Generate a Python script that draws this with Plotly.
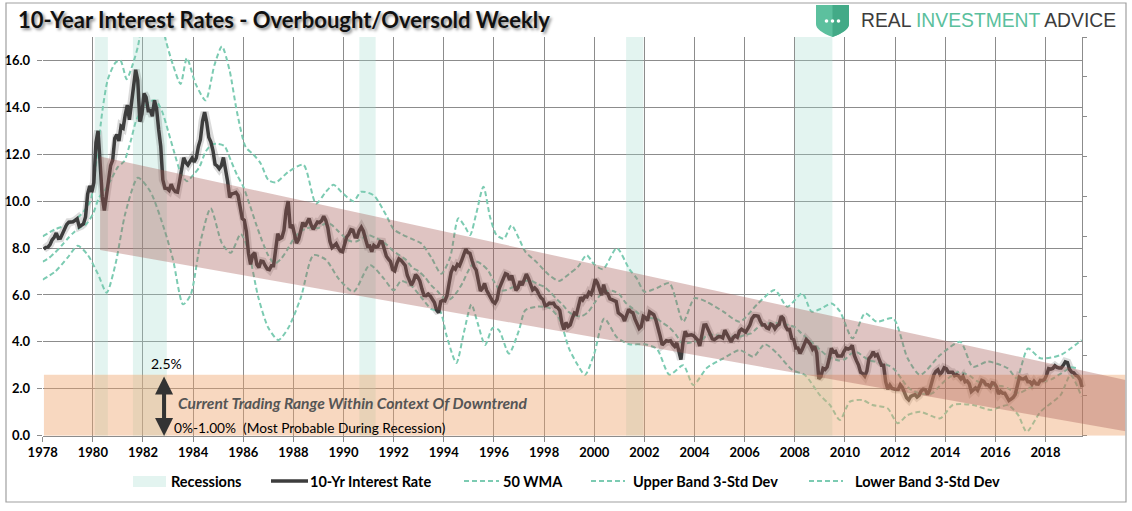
import plotly.graph_objects as go

# ---------------- DATA ----------------
rate_start_year = 1978
# monthly 10-year rate, Jan 1978 .. Jun 2019
rate_values = [
    7.96, 8.03, 8.04, 8.15, 8.35, 8.46, 8.64, 8.41, 8.42, 8.64, 8.81, 9.01,
    9.10, 9.10, 9.12, 9.18, 9.25, 8.91, 8.95, 9.03, 9.33, 10.30, 10.65, 10.39,
    10.80, 12.50, 13.00, 11.50, 10.20, 9.60, 10.25, 11.10, 11.51, 11.75, 12.68, 12.84,
    12.57, 13.19, 13.12, 13.68, 14.10, 13.47, 14.28, 14.94, 15.60, 15.15, 13.39, 13.72,
    14.59, 14.43, 13.86, 13.87, 13.62, 14.30, 13.95, 13.06, 12.34, 10.91, 10.55, 10.54,
    10.46, 10.72, 10.51, 10.40, 10.38, 10.85, 11.38, 11.85, 11.65, 11.54, 11.69, 11.83,
    11.67, 11.84, 12.32, 12.63, 13.41, 13.80, 13.36, 12.72, 12.52, 12.16, 11.57, 11.50,
    11.38, 11.51, 11.86, 11.43, 10.85, 10.16, 10.31, 10.33, 10.37, 10.24, 9.78, 9.26,
    9.19, 8.70, 7.78, 7.30, 7.71, 7.80, 7.30, 7.17, 7.45, 7.43, 7.25, 7.11,
    7.08, 7.25, 7.25, 8.02, 8.61, 8.40, 8.45, 8.76, 9.60, 10.00, 8.86, 8.99,
    8.67, 8.21, 8.37, 8.72, 9.09, 8.92, 9.06, 9.26, 8.98, 8.80, 8.96, 9.11,
    9.09, 9.17, 9.36, 9.18, 8.86, 8.28, 8.02, 8.11, 8.19, 8.01, 7.87, 7.84,
    8.21, 8.47, 8.59, 8.79, 8.76, 8.48, 8.47, 8.75, 8.89, 8.72, 8.39, 8.08,
    8.09, 7.85, 8.11, 8.04, 8.07, 8.28, 8.27, 7.90, 7.65, 7.53, 7.42, 7.09,
    7.03, 7.34, 7.54, 7.48, 7.39, 7.26, 6.84, 6.59, 6.42, 6.59, 6.87, 6.77,
    6.60, 6.26, 5.98, 5.97, 6.04, 5.96, 5.81, 5.68, 5.36, 5.25, 5.72, 5.77,
    5.75, 5.97, 6.48, 6.97, 7.18, 7.10, 7.30, 7.24, 7.46, 7.74, 7.96, 7.81,
    7.78, 7.47, 7.20, 7.06, 6.63, 6.17, 6.28, 6.49, 6.20, 6.04, 5.93, 5.71,
    5.65, 5.81, 6.27, 6.51, 6.74, 6.91, 6.87, 6.64, 6.83, 6.53, 6.20, 6.30,
    6.58, 6.42, 6.69, 6.89, 6.71, 6.49, 6.22, 6.30, 6.21, 6.03, 5.88, 5.81,
    5.54, 5.57, 5.65, 5.64, 5.65, 5.50, 5.46, 5.34, 4.81, 4.53, 4.83, 4.65,
    4.72, 5.00, 5.23, 5.18, 5.54, 5.90, 5.79, 5.94, 5.92, 6.11, 6.03, 6.28,
    6.66, 6.52, 6.26, 5.99, 6.44, 6.10, 6.05, 5.83, 5.80, 5.74, 5.72, 5.24,
    5.16, 5.10, 4.89, 5.14, 5.39, 5.28, 5.24, 4.97, 4.73, 4.57, 4.65, 5.09,
    5.04, 4.91, 5.28, 5.21, 5.16, 4.93, 4.65, 4.26, 3.87, 3.94, 4.05, 4.03,
    4.05, 3.90, 3.81, 3.96, 3.57, 3.25, 3.98, 4.45, 4.27, 4.29, 4.30, 4.27,
    4.15, 4.08, 3.83, 4.35, 4.72, 4.73, 4.50, 4.28, 4.13, 4.10, 4.19, 4.23,
    4.22, 4.17, 4.50, 4.34, 4.14, 4.00, 4.18, 4.26, 4.20, 4.46, 4.54, 4.47,
    4.42, 4.57, 4.72, 4.99, 5.11, 5.11, 5.09, 4.88, 4.72, 4.73, 4.60, 4.56,
    4.76, 4.72, 4.56, 4.69, 4.75, 5.10, 5.00, 4.67, 4.52, 4.53, 4.15, 4.10,
    3.74, 3.74, 3.51, 3.68, 3.88, 4.10, 4.01, 3.89, 3.69, 3.81, 3.53, 2.42,
    2.52, 2.87, 2.82, 2.93, 3.29, 3.72, 3.56, 3.59, 3.40, 3.39, 3.40, 3.59,
    3.73, 3.69, 3.73, 3.85, 3.42, 3.20, 3.01, 2.70, 2.65, 2.54, 2.76, 3.29,
    3.39, 3.58, 3.41, 3.46, 3.17, 3.00, 3.00, 2.30, 1.98, 2.15, 2.01, 1.98,
    1.97, 1.97, 2.17, 2.05, 1.80, 1.62, 1.53, 1.68, 1.72, 1.75, 1.65, 1.72,
    1.91, 1.98, 1.96, 1.76, 1.93, 2.30, 2.58, 2.74, 2.81, 2.62, 2.72, 2.90,
    2.86, 2.71, 2.72, 2.71, 2.56, 2.60, 2.54, 2.42, 2.53, 2.30, 2.33, 2.21,
    1.88, 1.98, 2.04, 1.94, 2.20, 2.36, 2.32, 2.17, 2.17, 2.07, 2.26, 2.24,
    2.09, 1.78, 1.89, 1.81, 1.81, 1.64, 1.50, 1.56, 1.63, 1.76, 2.14, 2.49,
    2.43, 2.42, 2.48, 2.30, 2.30, 2.19, 2.32, 2.21, 2.20, 2.36, 2.35, 2.40,
    2.58, 2.86, 2.84, 2.87, 2.98, 2.91, 2.89, 2.89, 3.00, 3.15, 3.12, 2.83,
    2.71, 2.68, 2.57, 2.53, 2.40, 2.07,
]

# 50-week moving average, quarterly readings from 1978.0
wma_start_year = 1978.0
wma_values = [
    7.42, 7.58, 7.82, 8.10, 8.41, 8.68, 8.88, 9.04, 9.44, 10.16, 10.50, 10.97,
    11.46, 11.70, 12.52, 13.50, 13.91, 14.24, 14.29, 13.86, 13.00, 12.07, 11.22, 10.85,
    11.11, 11.45, 12.11, 12.42, 12.44, 12.35, 11.75, 11.12, 10.62, 9.87, 9.06, 8.31,
    7.68, 7.34, 7.53, 7.92, 8.38, 8.69, 8.83, 8.89, 8.85, 9.04, 9.01, 8.76,
    8.50, 8.30, 8.28, 8.43, 8.55, 8.45, 8.31, 8.12, 7.86, 7.68, 7.49, 7.16,
    7.01, 6.75, 6.41, 6.16, 5.87, 5.82, 6.09, 6.52, 7.08, 7.43, 7.32, 7.07,
    6.58, 6.19, 6.21, 6.33, 6.44, 6.60, 6.60, 6.46, 6.35, 6.11, 5.83, 5.57,
    5.26, 5.11, 5.10, 5.27, 5.64, 6.01, 6.17, 6.17, 6.03, 5.67, 5.45, 5.22,
    5.02, 5.02, 4.98, 4.80, 4.61, 4.32, 3.95, 3.95, 4.02, 4.04, 4.29, 4.30,
    4.27, 4.34, 4.23, 4.21, 4.29, 4.36, 4.59, 4.76, 4.79, 4.82, 4.76, 4.72,
    4.63, 4.38, 4.14, 3.92, 3.67, 3.44, 3.29, 3.21, 3.26, 3.50, 3.55, 3.36,
    3.21, 3.15, 3.08, 2.99, 2.79, 2.43, 2.08, 1.89, 1.80, 1.78, 1.82, 2.09,
    2.35, 2.55, 2.71, 2.66, 2.54, 2.34, 2.23, 2.16, 2.14, 2.12, 2.02, 1.86,
    1.84, 1.97, 2.10, 2.27, 2.33, 2.41, 2.57, 2.74, 2.91, 2.88,
]

upper_years = [
    1978.0, 1978.5, 1979.0, 1979.5, 1979.9, 1980.15, 1980.4, 1980.6, 1980.9, 1981.1,
    1981.35, 1981.55, 1981.8, 1982.0, 1982.4, 1982.7, 1982.9, 1983.2, 1983.5, 1983.75,
    1984.1, 1984.5, 1984.85, 1985.15, 1985.45, 1985.75, 1986.1, 1986.4, 1986.7, 1987.0,
    1987.3, 1987.8, 1988.4, 1988.9, 1989.3, 1989.6, 1990.0, 1990.4, 1990.7, 1991.2,
    1991.7, 1992.0, 1992.3, 1992.7, 1993.1, 1993.5, 1993.9, 1994.25, 1994.58, 1994.85,
    1995.05, 1995.3, 1995.58, 1995.85, 1996.1, 1996.4, 1996.7, 1997.0, 1997.25, 1997.7,
    1998.2, 1998.6, 1999.0, 1999.35, 1999.7, 2000.0, 2000.35, 2000.9, 2001.4, 2001.7,
    2002.0, 2002.5, 2003.0, 2003.55, 2004.0, 2004.5, 2005.15, 2005.8, 2006.5, 2007.2,
    2007.7, 2008.3, 2008.67, 2009.07, 2009.47, 2009.8, 2010.3, 2010.8, 2011.27, 2011.93,
    2012.5, 2013.0, 2013.8, 2014.6, 2015.1, 2015.7, 2016.5, 2016.85, 2017.3, 2017.8,
    2018.6, 2019.44,
]
upper_band = [
    8.5, 8.8, 9.0, 9.4, 10.0, 11.8, 14.0, 15.2, 15.9, 16.0,
    15.2, 15.7, 16.6, 17.8, 18.8, 18.0, 16.9, 15.8, 15.0, 16.1,
    15.0, 14.3, 15.8, 16.6, 15.6, 13.8, 12.3, 12.0, 11.6, 10.9,
    10.8, 11.25, 11.55, 9.9, 10.4, 10.7, 10.3, 10.0, 10.4, 10.25,
    9.4, 8.8, 8.6, 8.4, 8.2, 7.6, 6.9, 7.6, 9.27, 8.9,
    8.56, 9.5, 10.62, 9.3, 8.56, 8.4, 8.98, 8.4, 7.85, 7.4,
    6.85, 6.6, 6.9, 7.2, 7.7, 7.3, 7.1, 8.0, 7.1, 6.7,
    6.14, 6.3, 6.5, 4.86, 5.86, 5.7, 5.29, 4.86, 5.6, 6.21,
    5.5, 6.07, 5.29, 5.43, 5.64, 5.3, 4.15, 5.22, 4.86, 5.0,
    3.3, 2.59, 3.44, 4.0, 2.94, 3.16, 2.87, 2.45, 3.72, 3.3,
    3.44, 4.08,
]

lower_years = [
    1978.0, 1978.5, 1979.0, 1979.4, 1979.8, 1980.2, 1980.55, 1980.9, 1981.3, 1981.8,
    1982.3, 1982.85, 1983.2, 1983.6, 1983.9, 1984.3, 1984.7, 1985.15, 1985.5, 1985.9,
    1986.2, 1986.6, 1987.0, 1987.4, 1987.8, 1988.3, 1988.8, 1989.3, 1989.8, 1990.4,
    1991.05, 1991.6, 1992.0, 1992.3, 1992.7, 1993.1, 1993.5, 1993.85, 1994.1, 1994.5,
    1994.8, 1995.1, 1995.35, 1995.65, 1995.95, 1996.2, 1996.6, 1997.0, 1997.25, 1997.7,
    1998.2, 1998.6, 1999.0, 1999.35, 1999.63, 2000.0, 2000.4, 2000.9, 2001.4, 2002.0,
    2002.5, 2003.0, 2003.55, 2003.95, 2004.5, 2005.15, 2005.8, 2006.35, 2006.8, 2007.3,
    2007.9, 2008.4, 2009.0, 2009.4, 2009.8, 2010.2, 2010.7, 2011.1, 2011.7, 2012.1,
    2012.5, 2013.0, 2013.8, 2014.3, 2015.1, 2015.8, 2016.5, 2016.9, 2017.25, 2017.8,
    2018.6, 2019.0, 2019.44,
]
lower_band = [
    6.65, 7.0, 7.6, 8.1, 7.7, 6.9, 6.1, 7.3, 9.5, 11.0,
    10.4, 8.8, 7.5, 5.6, 6.0, 8.3, 9.7, 8.2, 7.8, 8.6,
    7.9, 5.9, 4.6, 4.08, 4.6, 5.9, 7.7, 7.5, 6.7, 6.14,
    7.28, 6.71, 6.2, 6.6, 6.4, 5.9, 5.4, 5.3, 4.3, 3.1,
    4.4, 5.6, 4.8, 3.87, 4.6, 4.5, 3.5, 4.5, 5.35, 5.5,
    5.45, 5.0, 3.7, 3.0, 2.59, 3.5, 5.0, 4.2, 3.9, 3.9,
    3.7, 2.6, 3.0, 2.16, 2.9, 3.3, 3.65, 3.37, 3.9, 3.5,
    2.8, 2.59, 1.73, 1.31, 0.67, 1.45, 1.52, 1.31, 1.17, 0.53,
    0.88, 1.02, 0.74, 1.31, 1.31, 1.1, 1.3, 0.9, 0.17, 1.02,
    1.73, 2.59, 1.66,
]

recession_start = [1980.08, 1981.60, 1990.63, 2001.27, 2008.00]
recession_end = [1980.60, 1982.95, 1991.28, 2001.96, 2009.50]

trend_years = [1980.29, 2021.19]
trend_upper = [11.90, 2.38]
trend_lower = [7.92, 0.19]

range_years = [1978.05, 2021.19]
range_low, range_high = 0.0, 2.6

y_ticks = [0, 2, 4, 6, 8, 10, 12, 14, 16]
x_ticks = list(range(1978, 2019, 2))

# ---------------- LAYOUT CONSTANTS ----------------
W, H = 1132, 511
PL, PR, PR_EXT = 42.7, 1081.7, 1125.5
PT, PB = 37.0, 435.7
X0, X1 = 1978.0, 2019.444
PXY = (PR - PL) / (X1 - X0)
X1_EXT = X0 + (PR_EXT - PL) / PXY


def fx(p):
    return p / W


def fy(p):
    return 1 - p / H


FONT = "Lato"
TEAL = "#7ccbb2"
LINE = "#3d3d3d"
DASH = "5px,3px"

rate_x = [rate_start_year + (i + 0.5) / 12 for i in range(len(rate_values))]
wma_x = [wma_start_year + i * 0.25 for i in range(len(wma_values))]

fig = go.Figure()

# invisible anchor traces for the grid subplot
fig.add_trace(go.Scatter(x=[X0], y=[0], mode="markers", marker=dict(opacity=0),
                         showlegend=False, hoverinfo="skip", xaxis="x", yaxis="y"))

fig.add_trace(go.Scatter(x=rate_x, y=rate_values, mode="lines",
                         line=dict(color="rgba(0,0,0,0.14)", width=8),
                         showlegend=False, hoverinfo="skip", xaxis="x2", yaxis="y2"))
fig.add_trace(go.Scatter(x=upper_years, y=upper_band, mode="lines", name="Upper Band 3-Std Dev",
                         line=dict(color=TEAL, width=2, dash=DASH, shape="spline", smoothing=0.7),
                         showlegend=False, xaxis="x2", yaxis="y2"))
fig.add_trace(go.Scatter(x=lower_years, y=lower_band, mode="lines", name="Lower Band 3-Std Dev",
                         line=dict(color=TEAL, width=2, dash=DASH, shape="spline", smoothing=0.7),
                         showlegend=False, xaxis="x2", yaxis="y2"))
fig.add_trace(go.Scatter(x=wma_x, y=wma_values, mode="lines", name="50 WMA",
                         line=dict(color=TEAL, width=2, dash=DASH, shape="spline", smoothing=0.7),
                         showlegend=False, xaxis="x2", yaxis="y2"))
fig.add_trace(go.Scatter(x=rate_x, y=rate_values, mode="lines", name="10-Yr Interest Rate",
                         line=dict(color=LINE, width=3.5),
                         showlegend=False, xaxis="x2", yaxis="y2"))

shapes = []
for s, e in zip(recession_start, recession_end):
    shapes.append(dict(type="rect", xref="x2", yref="y2", x0=s, x1=e, y0=0, y1=17,
                       fillcolor="rgba(162,218,205,0.30)", line=dict(width=0), layer="below"))
shapes.append(dict(type="rect", xref="x2", yref="y2", x0=range_years[0], x1=range_years[1],
                   y0=range_low, y1=range_high, fillcolor="rgba(238,164,108,0.43)",
                   line=dict(width=0), layer="above"))
path = (f"M {trend_years[0]},{trend_upper[0]} L {trend_years[1]},{trend_upper[1]} "
        f"L {trend_years[1]},{trend_lower[1]} L {trend_years[0]},{trend_lower[0]} Z")
shapes.append(dict(type="path", xref="x2", yref="y2", path=path,
                   fillcolor="rgba(164,86,81,0.35)", line=dict(width=0), layer="above"))

# outer frame
shapes.append(dict(type="rect", xref="paper", yref="paper", x0=fx(6), x1=fx(1126), y0=fy(502), y1=fy(3),
                   line=dict(color="#a0a0a0", width=1.2), fillcolor="rgba(0,0,0,0)", layer="above"))


def P(x, y):
    return f"{fx(x):.5f},{fy(y):.5f}"


# logo shield
shield = (f"M {P(816,5)} L {P(849,5)} L {P(849,24)} Q {P(849,31)} {P(832.5,37)} "
          f"Q {P(816,31)} {P(816,24)} Z")
shapes.append(dict(type="path", xref="paper", yref="paper", path=shield,
                   fillcolor="#5cc09e", line=dict(width=0), layer="above"))
shield_r = f"M {P(832.5,5)} L {P(849,5)} L {P(849,24)} Q {P(849,31)} {P(832.5,37)} Z"
shapes.append(dict(type="path", xref="paper", yref="paper", path=shield_r,
                   fillcolor="#43aa87", line=dict(width=0), layer="above"))
for cx in (826.5, 832.5, 838.5):
    shapes.append(dict(type="circle", xref="paper", yref="paper",
                       x0=fx(cx - 1.8), x1=fx(cx + 1.8), y0=fy(22.8), y1=fy(19.2),
                       fillcolor="white", line=dict(width=0), layer="above"))

# legend symbols
LEG_Y = 481
shapes.append(dict(type="rect", xref="paper", yref="paper", x0=fx(133), x1=fx(166),
                   y0=fy(487), y1=fy(476), fillcolor="#e3f4f0", line=dict(width=0)))
shapes.append(dict(type="line", xref="paper", yref="paper", x0=fx(271), x1=fx(308),
                   y0=fy(LEG_Y), y1=fy(LEG_Y), line=dict(color=LINE, width=3.5)))
for a, b in ((464, 499), (591, 625), (809, 843)):
    shapes.append(dict(type="line", xref="paper", yref="paper", x0=fx(a), x1=fx(b),
                       y0=fy(LEG_Y), y1=fy(LEG_Y), line=dict(color=TEAL, width=2, dash=DASH)))

annotations = []
leg_items = [("Recessions", 169), ("10-Yr Interest Rate", 308), ("50 WMA", 501),
             ("Upper Band 3-Std Dev", 631), ("Lower Band 3-Std Dev", 853)]
for txt, x in leg_items:
    annotations.append(dict(text=txt, xref="paper", yref="paper", x=fx(x), y=fy(LEG_Y),
                            xanchor="left", yanchor="middle", showarrow=False,
                            font=dict(family=FONT, size=14.5, color="black", weight="bold")))

annotations.append(dict(text="10-Year Interest Rates - Overbought/Oversold Weekly",
                        xref="paper", yref="paper", x=fx(16), y=fy(19), xanchor="left",
                        yanchor="middle", showarrow=False,
                        font=dict(family=FONT, size=22, color="#111111", weight="bold",
                                  shadow="2px 2px 3px rgba(0,0,0,0.45)")))
annotations.append(dict(text=("<span style='color:#3c3c3c'>REAL </span>"
                              "<span style='color:#5bbf9d'>INVESTMENT</span>"
                              "<span style='color:#3c3c3c'> ADVICE</span>"),
                        xref="paper", yref="paper", x=fx(859), y=fy(21), xanchor="left",
                        yanchor="middle", showarrow=False,
                        font=dict(family="Liberation Sans", size=19.3, color="#3c3c3c")))

# chart annotations in data space
annotations.append(dict(text="", xref="x2", yref="y2", axref="x2", ayref="y2",
                        x=1982.84, y=2.52, ax=1982.84, ay=-0.08, showarrow=True,
                        arrowhead=2, startarrowhead=2, arrowside="end+start",
                        arrowsize=0.9, startarrowsize=0.9, arrowwidth=4, arrowcolor="#333333"))
annotations.append(dict(text="2.5%", xref="x2", yref="y2", x=1982.92, y=3.09,
                        showarrow=False, xanchor="center", yanchor="middle",
                        font=dict(family=FONT, size=14, color="black")))
annotations.append(dict(text="Current Trading Range Within Context Of Downtrend",
                        xref="x2", yref="y2", x=1983.30, y=1.38, showarrow=False,
                        xanchor="left", yanchor="middle",
                        font=dict(family=FONT, size=15.6, color="#555555", weight="bold",
                                  style="italic")))
annotations.append(dict(text="0%-1.00%  (Most Probable During Recession)",
                        xref="x2", yref="y2", x=1983.17, y=0.36, showarrow=False,
                        xanchor="left", yanchor="middle",
                        font=dict(family=FONT, size=13.7, color="black")))

GRID = "#8c8c8c"
fig.update_layout(
    template="none",
    width=W, height=H, margin=dict(l=0, r=0, t=0, b=0, pad=0, autoexpand=False),
    paper_bgcolor="white", plot_bgcolor="rgba(0,0,0,0)",
    showlegend=False,
    xaxis=dict(domain=[fx(PL), fx(PR)], range=[X0, X1], anchor="y", automargin=False,
               tickmode="array", tickvals=x_ticks, ticktext=[str(v) for v in x_ticks],
               showgrid=True, gridcolor=GRID, gridwidth=1, zeroline=False,
               showline=True, linecolor=GRID, linewidth=1, ticks="outside", ticklen=5,
               tickcolor=GRID, tickwidth=1,
               tickfont=dict(family=FONT, size=13, color="black", weight="bold")),
    yaxis=dict(domain=[fy(PB), fy(PT)], range=[0, 17], anchor="x", automargin=False,
               tickmode="array", tickvals=y_ticks, ticktext=[f"{v:.1f}" for v in y_ticks],
               showgrid=True, gridcolor=GRID, gridwidth=1, zeroline=False,
               showline=False, ticks="outside", ticklen=5, tickcolor=GRID, tickwidth=1,
               ticklabelstandoff=4,
               tickfont=dict(family=FONT, size=13, color="black", weight="bold")),
    yaxis3=dict(overlaying="y", side="right", anchor="x", range=[0, 10], dtick=1,
                automargin=False, showgrid=False, zeroline=False, showline=True,
                linecolor=GRID, linewidth=1, ticks="outside", ticklen=4, tickcolor=GRID,
                tickwidth=1, showticklabels=False),
    xaxis2=dict(domain=[fx(PL), fx(PR_EXT)], range=[X0, X1_EXT], anchor="y2",
                automargin=False, visible=False, showgrid=False, zeroline=False),
    yaxis2=dict(domain=[fy(PB), fy(PT)], range=[0, 17], anchor="x2",
                automargin=False, visible=False, showgrid=False, zeroline=False),
    shapes=shapes, annotations=annotations,
)

fig.add_trace(go.Scatter(x=[X1], y=[0], mode="markers", marker=dict(opacity=0),
                         showlegend=False, hoverinfo="skip", xaxis="x", yaxis="y3"))

fig.write_html(
    "out.html",
    config={"displayModeBar": False, "responsive": False},
    post_script=("document.documentElement.style.overflow='hidden';"
                 "document.body.style.overflow='hidden';"
                 "document.body.style.margin='0px';"),
)
